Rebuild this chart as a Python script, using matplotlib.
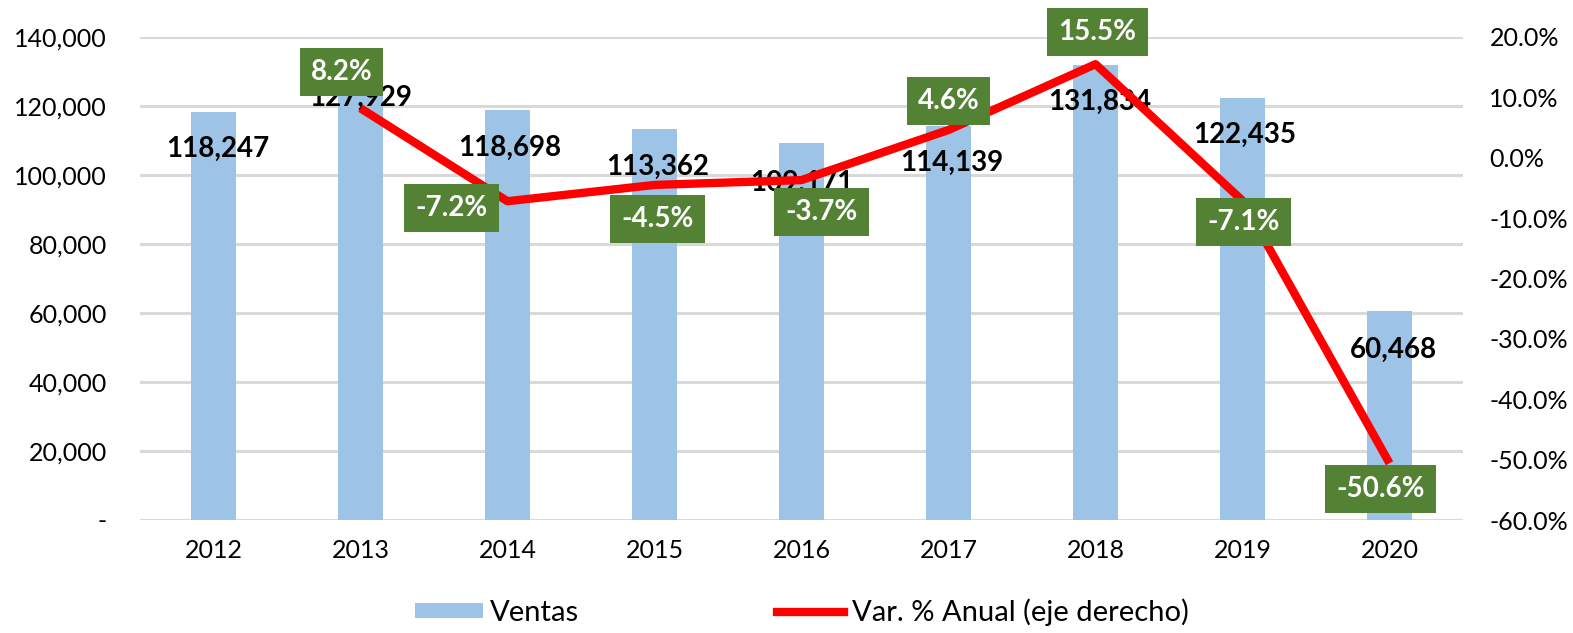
import matplotlib
matplotlib.use("Agg")
import matplotlib.pyplot as plt
from matplotlib.ticker import FuncFormatter, MultipleLocator
from matplotlib.lines import Line2D
from matplotlib.patches import Patch

plt.rcParams["font.family"] = ["Lato", "DejaVu Sans"]

# data
years = ["2012", "2013", "2014", "2015", "2016", "2017", "2018", "2019", "2020"]
ventas = [118247, 127929, 118698, 113362, 109171, 114139, 131834, 122435, 60468]
var_years = years[1:]
var_pct = [8.2, -7.2, -4.5, -3.7, 4.6, 15.5, -7.1, -50.6]

# label placement (pixel offsets from the mark), styling only
bar_lbl_off = [(4, -37), (0, -19), (2, -37), (3, -38), (0, -39), (3, -37), (4, -37), (2, -37), (4, -38)]
pct_lbl_off = [(-19, 36), (-56, -7), (3, -34), (20, -32), (0, 29), (2, 32), (1, -21), (-9, -26)]

BAR_C = "#9DC3E6"
LINE_C = "#FF0000"
BOX_C = "#548235"
GRID_C = "#D9D9D9"

W, H = 1573, 633
fig = plt.figure(figsize=(W / 100, H / 100), dpi=100)
ax = fig.add_axes([140 / W, (H - 520) / H, 1323 / W, 483 / H])
ax2 = ax.twinx()

x = list(range(len(years)))
ax.bar(x, ventas, width=0.31, color=BAR_C, zorder=2)
ax.set_xlim(-0.5, len(years) - 0.5)
ax.set_ylim(0, 140000)
ax.yaxis.set_major_locator(MultipleLocator(20000))
ax.yaxis.set_major_formatter(FuncFormatter(lambda v, p: "-" if v == 0 else f"{v:,.0f}"))
ax.set_xticks(x)
ax.set_xticklabels(years)
ax.grid(axis="y", color=GRID_C, linewidth=2.2, zorder=0)
ax.set_axisbelow(True)

xl = [years.index(y) for y in var_years]
ax2.plot(xl, var_pct, color=LINE_C, linewidth=6, solid_capstyle="butt", zorder=3)
ax2.set_ylim(-60, 20)
ax2.yaxis.set_major_locator(MultipleLocator(10))
ax2.yaxis.set_major_formatter(FuncFormatter(lambda v, p: f"{v:.1f}%"))

for a in (ax, ax2):
    for s in a.spines.values():
        s.set_visible(False)
ax.tick_params(axis="both", length=0, labelsize=18)
ax.tick_params(axis="y", pad=24)
ax.tick_params(axis="x", pad=14)
ax2.tick_params(axis="y", length=0, labelsize=18, pad=19)

# bar value labels
for i, v in enumerate(ventas):
    ax.annotate(f"{v:,.0f}", (x[i], v), xytext=bar_lbl_off[i], textcoords="offset pixels",
                ha="center", va="center", fontsize=20, fontweight="bold", color="black",
                zorder=5, annotation_clip=False)

for i, v in enumerate(var_pct):
    ax2.annotate(f"{v:.1f}%", (xl[i], v), xytext=pct_lbl_off[i], textcoords="offset pixels",
                 ha="center", va="center", fontsize=20, fontweight="bold", color="white",
                 zorder=6, annotation_clip=False,
                 bbox=dict(boxstyle="square,pad=0.4", fc=BOX_C, ec="none"))

handles = [Patch(facecolor=BAR_C, edgecolor="none"),
           Line2D([0], [0], color=LINE_C, linewidth=6)]
fig.legend(handles, ["Ventas", "Var. % Anual (eje derecho)"], loc="center",
           bbox_to_anchor=(802 / W, (H - 612) / H), ncol=2, frameon=False,
           fontsize=21, handlelength=2.3, handleheight=0.45, columnspacing=6.8,
           handletextpad=0.25)

fig.savefig("out.png", dpi=100)
